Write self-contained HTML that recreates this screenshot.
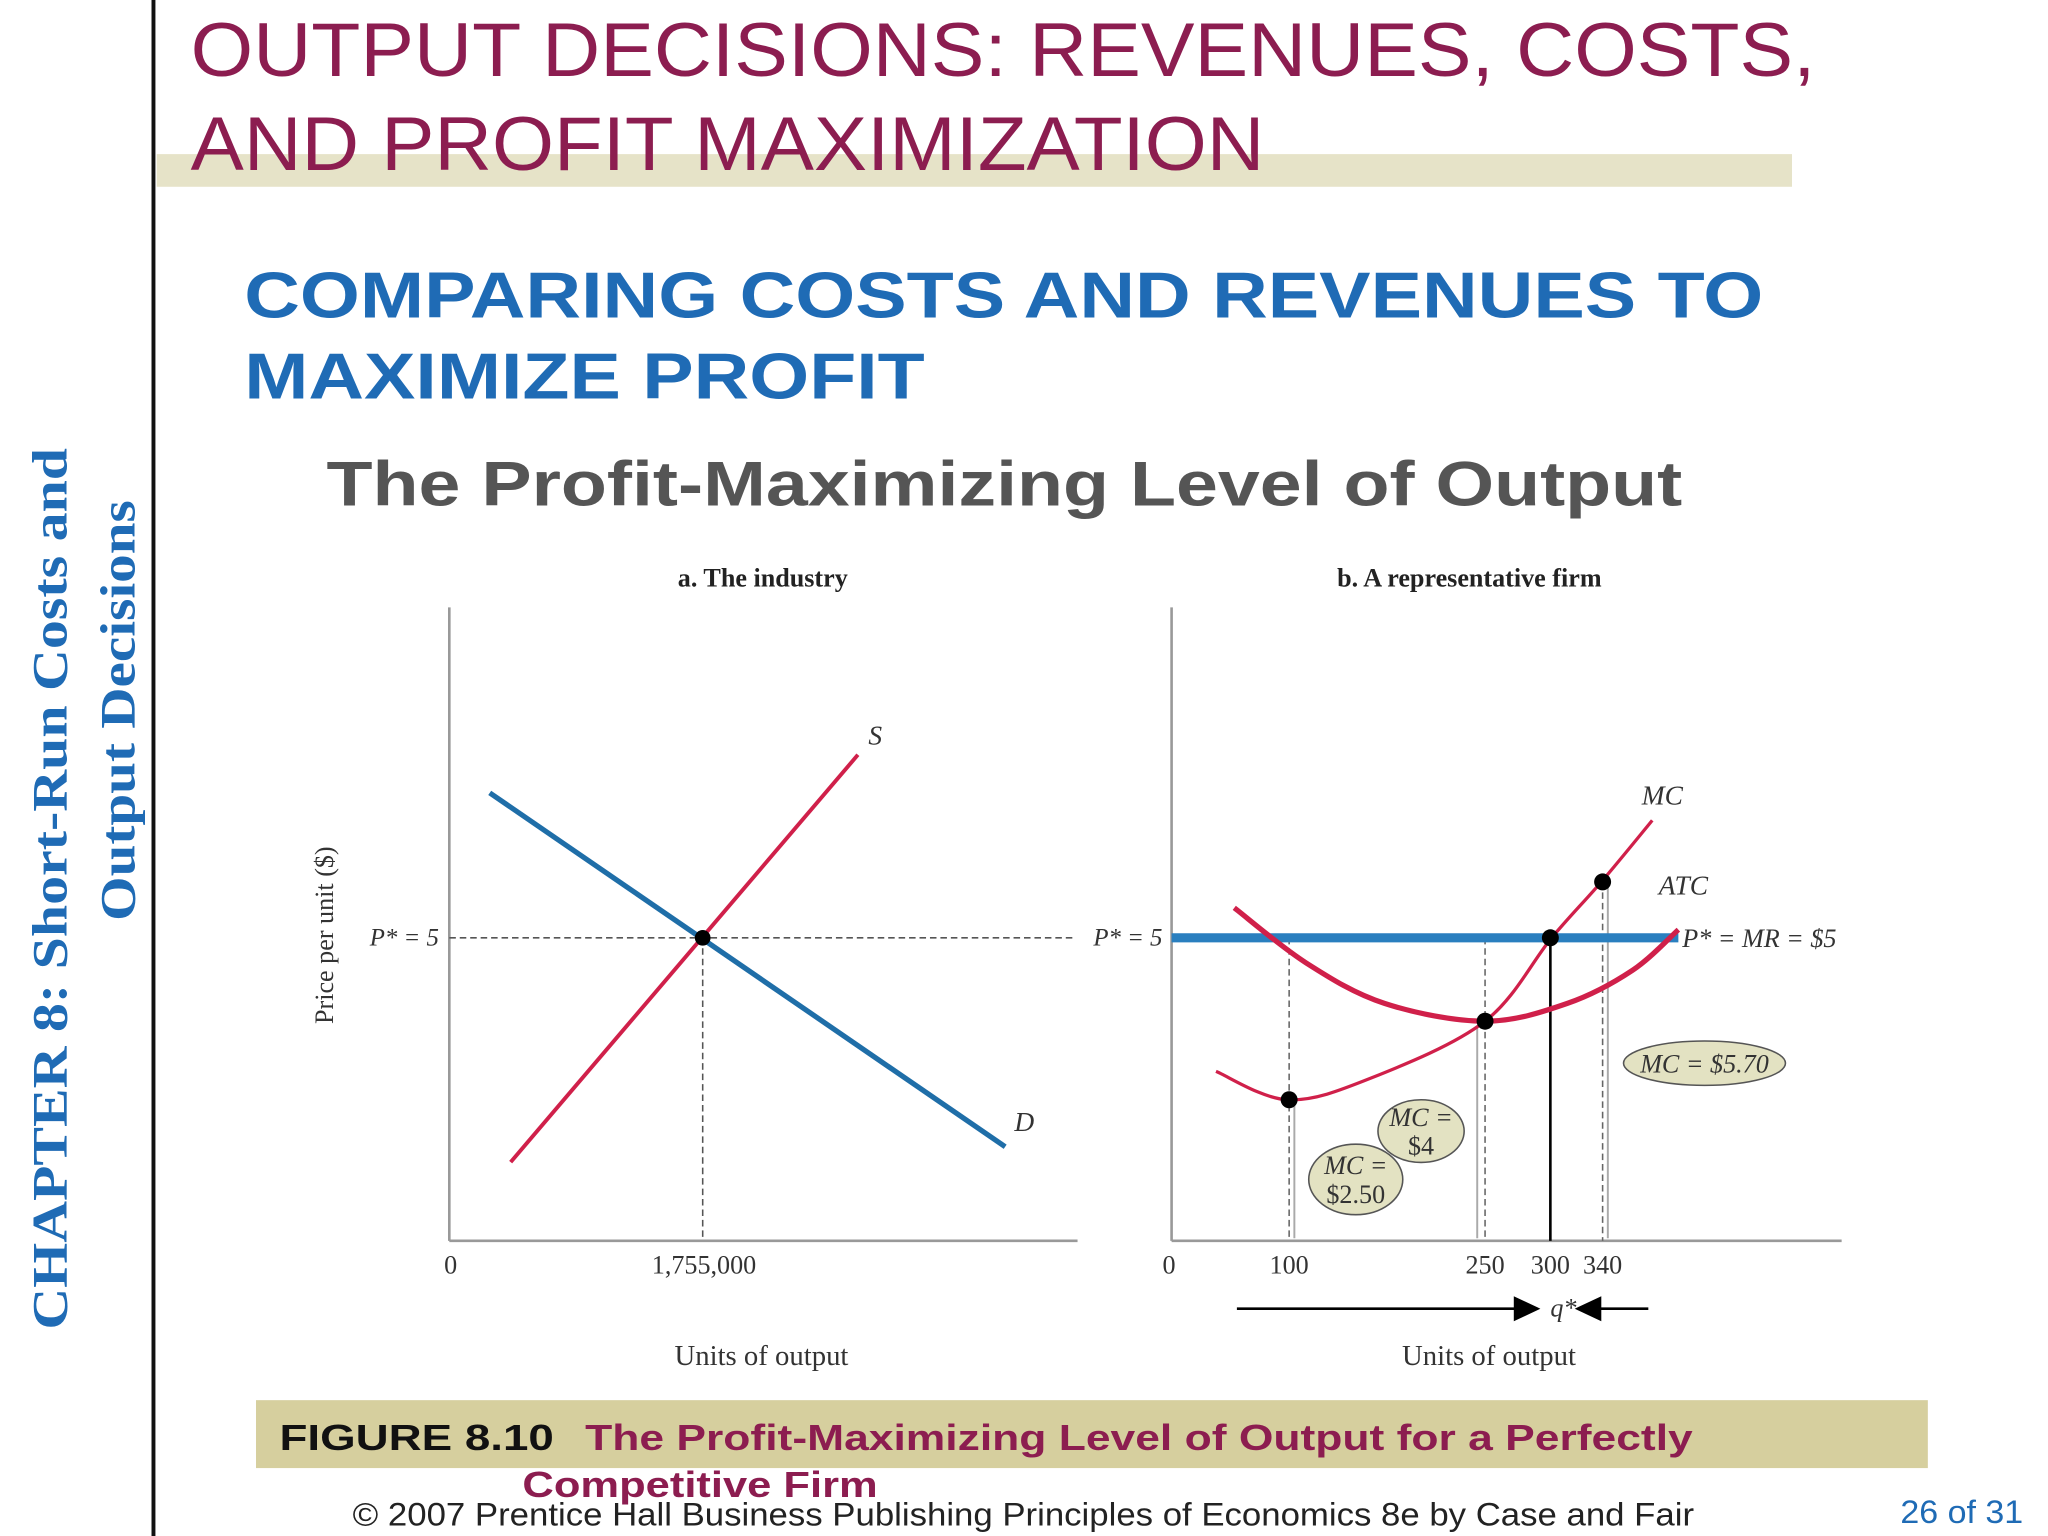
<!DOCTYPE html>
<html><head><meta charset="utf-8"><style>
html,body{margin:0;padding:0;background:#fff;width:2048px;height:1536px;overflow:hidden}
svg text{font-family:"Liberation Sans",sans-serif}
.serif{font-family:"Liberation Serif",serif !important}
</style></head><body>
<svg id="root" width="2048" height="1536" viewBox="0 0 1568 1176" xmlns="http://www.w3.org/2000/svg">
<rect x="0" y="0" width="1568" height="1176" fill="#fff"/>
<rect x="116" y="0" width="3" height="1176" fill="#111"/>
<rect x="120" y="118" width="1252" height="25" fill="#e6e3c8"/>
<text x="146" y="58" font-size="58" fill="#8c1d50" textLength="1244" lengthAdjust="spacingAndGlyphs">OUTPUT DECISIONS:  REVENUES, COSTS,</text>
<text x="146" y="130" font-size="58" fill="#8c1d50" textLength="822" lengthAdjust="spacingAndGlyphs">AND PROFIT MAXIMIZATION</text>
<text x="187" y="243" font-size="50" font-weight="bold" fill="#1f6bb5" textLength="1163" lengthAdjust="spacingAndGlyphs">COMPARING COSTS AND REVENUES TO</text>
<text x="187" y="305" font-size="50" font-weight="bold" fill="#1f6bb5" textLength="521" lengthAdjust="spacingAndGlyphs">MAXIMIZE PROFIT</text>
<text x="250" y="387" font-size="48" font-weight="bold" fill="#555" textLength="1038" lengthAdjust="spacingAndGlyphs">The Profit-Maximizing Level of Output</text>
<g font-weight="bold" fill="#1f6bb5" font-size="38">
<text class="serif" transform="translate(51,1018) rotate(-90)" textLength="675" lengthAdjust="spacingAndGlyphs">CHAPTER 8:  Short-Run Costs and</text>
<text class="serif" transform="translate(103,705) rotate(-90)" textLength="322" lengthAdjust="spacingAndGlyphs">Output Decisions</text>
</g>
<g id="pa"></g>
<g id="pb"></g>
<rect x="196" y="1072" width="1280" height="52" fill="#d6cf9e"/>
<text x="214" y="1110" font-size="28" font-weight="bold" fill="#111" textLength="210" lengthAdjust="spacingAndGlyphs">FIGURE 8.10</text>
<text x="448" y="1110" font-size="28" font-weight="bold" fill="#8c1d50" textLength="848" lengthAdjust="spacingAndGlyphs">The Profit-Maximizing Level of Output for a Perfectly</text>
<text x="400" y="1146" font-size="28" font-weight="bold" fill="#8c1d50" textLength="272" lengthAdjust="spacingAndGlyphs">Competitive Firm</text>
<text x="270" y="1168" font-size="25" fill="#222" textLength="1027" lengthAdjust="spacingAndGlyphs">© 2007 Prentice Hall Business Publishing   Principles of Economics 8e by Case and Fair</text>
<text x="1455" y="1166" font-size="25" fill="#1f6bb5" textLength="94" lengthAdjust="spacingAndGlyphs">26 of 31</text>
</svg>
<script>
// Panel a data (quantity, price)
const supplyQ=[425000,2830000];
const supplyP=[2.23,7.26];
const demandQ=[280000,3850000];
const demandP=[6.79,2.42];
const eqQ=[1755000];
const eqP=[5];
const aTicks=["0","1,755,000"];
const aTickVals=[0,1755000];
// Panel b data
const mcQ=[44,99,163,250,301,339,378];
const mcP=[3.35,3.0,3.27,3.97,5.0,5.69,6.45];
const atcQ=[58,113,173,250,313,363,398];
const atcP=[5.37,4.69,4.19,3.97,4.19,4.6,5.1];
const dotQ=[100,250,300,340];
const dotP=[3.0,3.97,5.0,5.69];
const bTicks=["0","100","250","300","340"];
const bTickVals=[0,100,250,300,340];
const priceStar=5;

const NS="http://www.w3.org/2000/svg";
const py=p=>718-(p-5)*62;
const ax=q=>344+q*(194/1755000);
const bx=q=>887+q*1.0;
function mk(parent,tag,attrs,txt){const e=document.createElementNS(NS,tag);for(const k in attrs)e.setAttribute(k,attrs[k]);if(txt!=null)e.textContent=txt;parent.appendChild(e);return e;}
function smooth(pts){let d="M"+pts[0][0]+","+pts[0][1];for(let i=0;i<pts.length-1;i++){const p0=pts[Math.max(0,i-1)],p1=pts[i],p2=pts[i+1],p3=pts[Math.min(pts.length-1,i+2)];const c1=[p1[0]+(p2[0]-p0[0])/6,p1[1]+(p2[1]-p0[1])/6],c2=[p2[0]-(p3[0]-p1[0])/6,p2[1]-(p3[1]-p1[1])/6];d+=" C"+c1+" "+c2+" "+p2;}return d;}
function st(o){return Object.assign({"class":"serif"},o);}

// ---- Panel a ----
const pa=document.getElementById('pa');
let e;
e=mk(pa,'text',st({x:584,y:449,"font-size":20,"font-weight":"bold","text-anchor":"middle",fill:"#222"}),"a. The industry");


e=mk(pa,'line',{x1:344,y1:465,x2:344,y2:950,stroke:"#999","stroke-width":2});


e=mk(pa,'line',{x1:344,y1:950,x2:825,y2:950,stroke:"#999","stroke-width":2});


e=mk(pa,'text',st({transform:"translate(255,716) rotate(-90)","font-size":20,"text-anchor":"middle",fill:"#333"}),"Price per unit ($)");


e=mk(pa,'line',{x1:344,y1:py(priceStar),x2:822,y2:py(priceStar),stroke:"#555","stroke-width":1.2,"stroke-dasharray":"5,3"});


e=mk(pa,'text',st({x:336,y:py(priceStar)+6,"font-size":19,"text-anchor":"end",fill:"#333","font-style":"italic"}),"P* = 5");


e=mk(pa,'line',{x1:ax(eqQ[0]),y1:py(eqP[0]),x2:ax(eqQ[0]),y2:950,stroke:"#555","stroke-width":1.2,"stroke-dasharray":"5,3"});


e=mk(pa,'line',{x1:ax(supplyQ[0]),y1:py(supplyP[0]),x2:ax(supplyQ[1]),y2:py(supplyP[1]),stroke:"#d0204a","stroke-width":3});


e=mk(pa,'line',{x1:ax(demandQ[0]),y1:py(demandP[0]),x2:ax(demandQ[1]),y2:py(demandP[1]),stroke:"#1f6ea8","stroke-width":4});


e=mk(pa,'text',st({x:ax(supplyQ[1])+8,y:py(supplyP[1])-8,"font-size":21,"font-style":"italic",fill:"#333"}),"S");


e=mk(pa,'text',st({x:ax(demandQ[1])+7,y:py(demandP[1])-12,"font-size":21,"font-style":"italic",fill:"#333"}),"D");


e=mk(pa,'circle',{cx:ax(eqQ[0]),cy:py(eqP[0]),r:6,fill:"#000"});


aTicks.forEach((t,i)=>{
 const el=mk(pa,'text',st({x:ax(aTickVals[i])+1,y:975,"font-size":20,"text-anchor":"middle",fill:"#333"}),t);
 
 
});
e=mk(pa,'text',st({x:583,y:1045,"font-size":22,"text-anchor":"middle",fill:"#333"}),"Units of output");



// ---- Panel b ----
const pb=document.getElementById('pb');
e=mk(pb,'text',st({x:1125,y:449,"font-size":20,"font-weight":"bold","text-anchor":"middle",fill:"#222"}),"b. A representative firm");


e=mk(pb,'line',{x1:897,y1:465,x2:897,y2:950,stroke:"#999","stroke-width":2});


e=mk(pb,'line',{x1:897,y1:950,x2:1410,y2:950,stroke:"#999","stroke-width":2});


dotQ.forEach((q,i)=>{
 const x=bx(q),y=py(dotP[i]);
 if(q===300){
  const l=mk(pb,'line',{x1:x,y1:y,x2:x,y2:950,stroke:"#000","stroke-width":2});
  
  
 } else {
  const d=mk(pb,'line',{x1:x,y1:Math.min(py(priceStar),y),x2:x,y2:950,stroke:"#666","stroke-width":1.2,"stroke-dasharray":"5,3"});
  
  
  const off=q===250?-6:4;
  const s=mk(pb,'path',{d:"M"+(x+off)+","+(y+4)+" L"+(x+off)+","+948,stroke:"#aaa","stroke-width":1.5,fill:"none"});
  
  
 }
});
e=mk(pb,'line',{x1:897,y1:py(priceStar),x2:1285,y2:py(priceStar),stroke:"#2a7fbf","stroke-width":7});


e=mk(pb,'text',st({x:890,y:py(priceStar)+6,"font-size":19,"text-anchor":"end",fill:"#333","font-style":"italic"}),"P* = 5");


e=mk(pb,'text',st({x:1288,y:py(priceStar)+7,"font-size":20,fill:"#333","font-style":"italic"}),"P* = MR = $5");


e=mk(pb,'path',{d:smooth(atcQ.map((q,i)=>[bx(q),py(atcP[i])])),stroke:"#d0204a","stroke-width":4,fill:"none"});


e=mk(pb,'path',{d:smooth(mcQ.map((q,i)=>[bx(q),py(mcP[i])])),stroke:"#d0204a","stroke-width":2.5,fill:"none"});


e=mk(pb,'text',st({x:1257,y:616,"font-size":21,"font-style":"italic",fill:"#333"}),"MC");


e=mk(pb,'text',st({x:1270,y:685,"font-size":21,"font-style":"italic",fill:"#333"}),"ATC");


dotQ.forEach((q,i)=>{
 const c=mk(pb,'circle',{cx:bx(q),cy:py(dotP[i]),r:6.5,fill:"#000"});
 
 
});
function callout(cx,cy,rx,ry,lines,name){
 const g=mk(pb,'g',{});
 
 
 mk(g,'ellipse',{cx:cx,cy:cy,rx:rx,ry:ry,fill:"#e3e2c2",stroke:"#555","stroke-width":1.2});
 lines.forEach((t,i)=>mk(g,'text',st({x:cx,y:cy+7+(i-(lines.length-1)/2)*22,"font-size":20,"text-anchor":"middle",fill:"#333","font-style":i===0?"italic":"normal"}),t));
}
callout(1305,814,62,17,["MC = $5.70"],'callout-mc-570');
callout(1088,866,33,24,["MC =","$4"],'callout-mc-4');
callout(1038,903,36,27,["MC =","$2.50"],'callout-mc-250');
bTicks.forEach((t,i)=>{
 const x=bTickVals[i]===0?895:bx(bTickVals[i]);
 const el=mk(pb,'text',st({x:x,y:975,"font-size":20,"text-anchor":"middle",fill:"#333"}),t);
 
 
});
e=mk(pb,'path',{d:"M947,1002 L1162,1002 M1177,1002 L1160,994 L1160,1010 Z M1262,1002 L1222,1002 M1208,1002 L1225,994 L1225,1010 Z",stroke:"#000","stroke-width":2,fill:"#000"});


e=mk(pb,'text',st({x:1197,y:1008,"font-size":20,"font-style":"italic","text-anchor":"middle",fill:"#333"}),"q*");


e=mk(pb,'text',st({x:1140,y:1045,"font-size":22,"text-anchor":"middle",fill:"#333"}),"Units of output");


</script>
</body></html>
